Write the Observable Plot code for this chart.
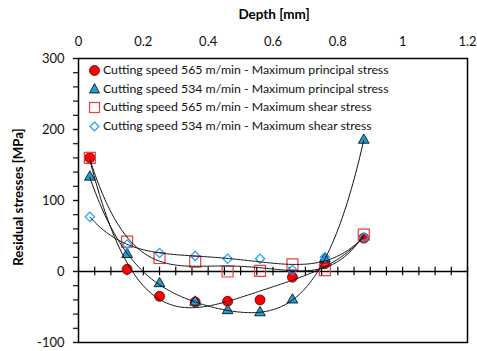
<!DOCTYPE html>
<html><head><meta charset="utf-8">
<script src="https://cdn.jsdelivr.net/npm/d3@7"></script>
<script src="https://cdn.jsdelivr.net/npm/@observablehq/plot@0.6"></script>
<style>
body{margin:0;background:#fff;font-family:Lato,"Open Sans",sans-serif;}
#wrap{position:relative;width:477px;height:351px;}
#legend{position:absolute;left:88px;top:61px;font-size:12.3px;line-height:18.6px;color:#111;}
#legend div{display:flex;align-items:center;white-space:nowrap;}
#legend svg{margin-right:2px;}
#xtitle{position:absolute;left:0;width:548px;top:6px;text-align:center;font-weight:bold;font-size:13.5px;}
#ytitle{position:absolute;left:18px;top:197px;transform:translate(-50%,-50%) rotate(-90deg);font-weight:bold;font-size:13.2px;white-space:nowrap;}
</style></head>
<body><div id="wrap"></div>
<script>
const depth = [0.035, 0.15, 0.25, 0.36, 0.46, 0.56, 0.66, 0.76, 0.88];
const principal565 = [160, 3, -35, -43, -42, -40, -8, 11, 47];
const principal534 = [133, 24, -17, -43, -55, -58, -40, 18, 185];
const shear565 = [160, 42, 19, 14, 0, 1, 10, 2, 52];
const shear534 = [77, 38, 26, 22, 18, 18, 2, 20, 48];
const seriesNames = [
  "Cutting speed 565 m/min - Maximum principal stress",
  "Cutting speed 534 m/min - Maximum principal stress",
  "Cutting speed 565 m/min - Maximum shear stress",
  "Cutting speed 534 m/min - Maximum shear stress"
];
const xTicks = [0, 0.2, 0.4, 0.6, 0.8, 1, 1.2];
const yTicks = [-100, 0, 100, 200, 300];

function polyfit(xs, ys, deg) {
  const n = deg + 1;
  const A = Array.from({length: n}, () => new Array(n + 1).fill(0));
  for (let k = 0; k < xs.length; k++) {
    for (let i = 0; i < n; i++) {
      for (let j = 0; j < n; j++) A[i][j] += Math.pow(xs[k], i + j);
      A[i][n] += ys[k] * Math.pow(xs[k], i);
    }
  }
  for (let c = 0; c < n; c++) {
    let p = c;
    for (let r = c + 1; r < n; r++) if (Math.abs(A[r][c]) > Math.abs(A[p][c])) p = r;
    [A[c], A[p]] = [A[p], A[c]];
    for (let r = 0; r < n; r++) if (r !== c) {
      const f = A[r][c] / A[c][c];
      for (let j = c; j <= n; j++) A[r][j] -= f * A[c][j];
    }
  }
  const coef = A.map((row, i) => row[n] / row[i]);
  return x => coef.reduce((s, c, i) => s + c * Math.pow(x, i), 0);
}
function trend(ys, deg) {
  const f = polyfit(depth, ys, deg);
  const x0 = depth[0], x1 = depth[depth.length - 1];
  return d3.range(0, 201).map(i => { const x = x0 + (x1 - x0) * i / 200; return {x, y: f(x)}; });
}
const pts = ys => depth.map((x, i) => ({x, y: ys[i]}));

const chart = Plot.plot({
  width: 477, height: 351,
  marginLeft: 78, marginRight: 10, marginTop: 58, marginBottom: 9,
  style: {fontFamily: "Lato, 'Open Sans', sans-serif", fontSize: "13px", color: "#111", background: "#fff"},
  x: {domain: [0, 1.2]},
  y: {domain: [-100, 300]},
  marks: [
    Plot.axisX({anchor: "top", ticks: xTicks, tickSize: 0, tickPadding: 13, tickFormat: d => String(d), label: null}),
    Plot.axisY({ticks: yTicks, tickSize: 5, tickPadding: 9, tickFormat: d => String(d), label: null, strokeWidth: 1.2}),
    Plot.axisY({ticks: d3.range(-100, 301, 20), tickSize: 5, text: null, label: null, strokeWidth: 1.2}),
    Plot.ruleY([0], {stroke: "#000", strokeWidth: 1.5}),
    Plot.ruleX(d3.range(0, 1.201, 0.05), {x: d => d, y1: -6, y2: 6, stroke: "#000", strokeWidth: 1.2}),
    Plot.frame({stroke: "#000", strokeWidth: 1.5}),
    Plot.dot(pts(principal565), {x: "x", y: "y", r: 5, fill: "#ff0000", stroke: "#600", strokeWidth: 0.8}),
    Plot.dot(pts(principal534), {x: "x", y: "y", r: 4, symbol: "triangle", fill: "#1c9fd6", stroke: "#000", strokeWidth: 0.8}),
    Plot.dot(pts(shear565), {x: "x", y: "y", r: 6.2, symbol: "square", fill: "none", stroke: "#f03c3c", strokeWidth: 1.2}),
    Plot.dot(pts(shear534), {x: "x", y: "y", r: 4.2, symbol: "diamond2", fill: "none", stroke: "#1aa0ff", strokeWidth: 1.2}),
    Plot.line(trend(principal565, 4), {x: "x", y: "y", stroke: "#111", strokeWidth: 1}),
    Plot.line(trend(principal534, 4), {x: "x", y: "y", stroke: "#111", strokeWidth: 1}),
    Plot.line(trend(shear565, 4), {x: "x", y: "y", stroke: "#111", strokeWidth: 1}),
    Plot.line(trend(shear534, 4), {x: "x", y: "y", stroke: "#111", strokeWidth: 1})
  ]
});
const wrap = document.getElementById("wrap");
wrap.appendChild(chart);

const icons = [
  '<svg width="13" height="13"><circle cx="6.5" cy="6.5" r="5" fill="#ff0000" stroke="#600" stroke-width="0.8"/></svg>',
  '<svg width="13" height="13"><path d="M6.5,1.5L11.5,11H1.5Z" fill="#1c9fd6" stroke="#000" stroke-width="0.8"/></svg>',
  '<svg width="13" height="13"><rect x="1.5" y="1.5" width="10" height="10" fill="none" stroke="#f03c3c" stroke-width="1.2"/></svg>',
  '<svg width="13" height="13"><path d="M6.5,2L11,6.5L6.5,11L2,6.5Z" fill="none" stroke="#1aa0ff" stroke-width="1.2"/></svg>'
];
const leg = document.createElement("div");
leg.id = "legend";
leg.innerHTML = seriesNames.map((s, i) => `<div>${icons[i]}<span>${s}</span></div>`).join("");
wrap.appendChild(leg);
const xt = document.createElement("div"); xt.id = "xtitle"; xt.textContent = "Depth [mm]"; wrap.appendChild(xt);
const yt = document.createElement("div"); yt.id = "ytitle"; yt.textContent = "Residual stresses [MPa]"; wrap.appendChild(yt);
</script></body></html>
